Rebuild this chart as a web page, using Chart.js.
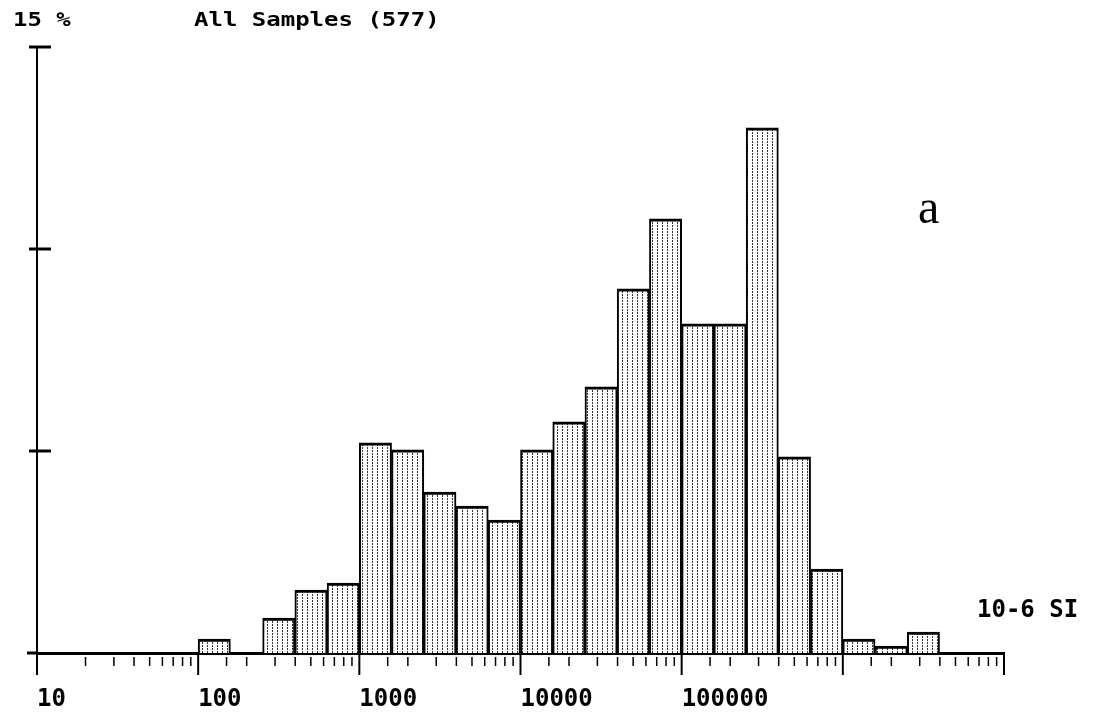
<!DOCTYPE html>
<html>
<head>
<meta charset="utf-8">
<script src="https://cdn.jsdelivr.net/npm/chart.js@4/dist/chart.umd.min.js"></script>
<style>
  body { margin: 0; background: #fff; }
  #wrap { position: relative; width: 1098px; height: 715px; }
  canvas { display: block; }
  .mono { position: absolute; font-family: "DejaVu Sans Mono", monospace; font-weight: bold;
          font-size: 24px; line-height: 24px; color: #000; white-space: pre; }
  .head { transform: scaleY(0.82); transform-origin: 0 0; }
  .letter { position: absolute; font-family: "Liberation Serif", serif; font-size: 48px;
            line-height: 48px; color: #000; }
</style>
</head>
<body>
<div id="wrap">
  <canvas id="chart" width="1098" height="715"></canvas>
  <div class="mono head" style="left:13px;top:10px">15 %</div>
  <div class="mono head" style="left:194px;top:10px">All Samples (577)</div>
  <div class="letter" style="left:918px;top:183px">a</div>
  <div class="mono" style="left:977px;top:597px">10-6 SI</div>
</div>
<script>
// log10 of the lower edge of each bin (0.2 decade wide)
const binStartExp = [2.0, 2.2, 2.4, 2.6, 2.8, 3.0, 3.2, 3.4, 3.6, 3.8, 4.0, 4.2,
                     4.4, 4.6, 4.8, 5.0, 5.2, 5.4, 5.6, 5.8, 6.0, 6.2, 6.4];
// number of samples per bin
const sampleCounts = [2, 0, 5, 9, 10, 30, 29, 23, 21, 19, 29, 33,
                      38, 52, 62, 47, 47, 75, 28, 12, 2, 1, 3];
const totalSamples = 577;
const labelledDecades = [10, 100, 1000, 10000, 100000];

const ctx = document.getElementById("chart").getContext("2d");

// dotted vertical hatching like the printout
const tile = document.createElement("canvas");
tile.width = 5;
tile.height = 3;
const tc = tile.getContext("2d");
tc.fillStyle = "#fff";
tc.fillRect(0, 0, 5, 3);
tc.fillStyle = "#333";
tc.fillRect(2, 0, 1, 2);
const hatch = ctx.createPattern(tile, "repeat");

const points = binStartExp.map((e, i) => ({
  x: Math.pow(10, e + 0.1),
  y: sampleCounts[i] / totalSamples * 100
}));

const isDecade = v => Math.abs(Math.log10(v) - Math.round(Math.log10(v))) < 1e-6;

const axisMarks = {
  id: "axisMarks",
  afterDraw(chart) {
    const { x, y } = chart.scales;
    const c = chart.ctx;
    const base = y.getPixelForValue(0);
    c.save();
    c.strokeStyle = "#000";
    // x axis ticks, long ones on decades
    x.ticks.forEach(t => {
      const px = x.getPixelForValue(t.value);
      const major = isDecade(t.value);
      c.lineWidth = major ? 2 : 1.5;
      c.beginPath();
      c.moveTo(px, base + (major ? 0 : 4));
      c.lineTo(px, base + (major ? 22 : 13));
      c.stroke();
    });
    // small extension of the x axis line to the left
    c.lineWidth = 3;
    c.beginPath();
    c.moveTo(x.left - 10, base);
    c.lineTo(x.left, base);
    c.stroke();
    // y axis cross ticks
    y.ticks.filter(t => t.value > 0).forEach(t => {
      const py = y.getPixelForValue(t.value);
      c.lineWidth = 3;
      c.beginPath();
      c.moveTo(x.left - 8, py);
      c.lineTo(x.left + 14, py);
      c.stroke();
    });
    c.restore();
  }
};

new Chart(ctx, {
  type: "bar",
  data: {
    datasets: [{
      data: points,
      backgroundColor: hatch,
      borderColor: "#000",
      borderWidth: { top: 3, left: 2, right: 2, bottom: 0 },
      borderSkipped: "start",
      barThickness: "flex",
      barPercentage: 1,
      categoryPercentage: 1
    }]
  },
  options: {
    responsive: false,
    animation: false,
    devicePixelRatio: 1,
    layout: { padding: { left: 0, right: 94, top: 47, bottom: 0 } },
    plugins: { legend: { display: false }, tooltip: { enabled: false } },
    scales: {
      x: {
        type: "logarithmic",
        min: 10,
        max: 10000000,
        offset: false,
        grid: { display: false, drawTicks: false },
        border: { display: true, color: "#000", width: 3 },
        ticks: {
          autoSkip: false,
          maxRotation: 0,
          align: "start",
          padding: 32,
          color: "#000",
          font: { family: "DejaVu Sans Mono", size: 24, weight: "bold" },
          callback: v => (isDecade(v) && labelledDecades.includes(Math.round(v))) ? String(Math.round(v)) : ""
        },
        afterFit: s => { s.height = 62; }
      },
      y: {
        min: 0,
        max: 15,
        ticks: { display: false, stepSize: 5 },
        grid: { display: false, drawTicks: false },
        border: { display: true, color: "#000", width: 2 },
        afterFit: s => { s.width = 37; }
      }
    }
  },
  plugins: [axisMarks]
});
</script>
</body>
</html>
